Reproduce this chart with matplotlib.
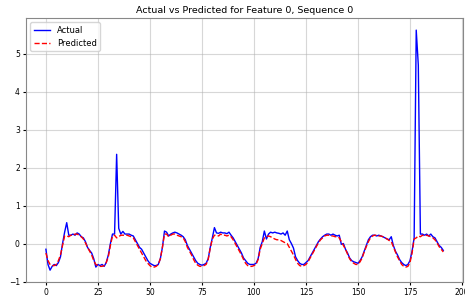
import numpy as np
import matplotlib
matplotlib.use('Agg')
import matplotlib.pyplot as plt

# values
actual = [
    -0.15, -0.55, -0.70, -0.60, -0.55, -0.58, -0.50, -0.35, 0.00, 0.30, 0.55, 0.22,
    0.22, 0.25, 0.22, 0.28, 0.25, 0.18, 0.15, 0.05, -0.10, -0.18, -0.25, -0.40,
    -0.62, -0.55, -0.58, -0.55, -0.60, -0.50, -0.30, 0.00, 0.25, 0.25, 2.35, 0.40,
    0.25, 0.32, 0.25, 0.25, 0.25, 0.22, 0.20, 0.10, 0.00, -0.10, -0.15, -0.25,
    -0.35, -0.45, -0.52, -0.55, -0.58, -0.58, -0.55, -0.40, -0.10, 0.33, 0.30, 0.20,
    0.25, 0.28, 0.30, 0.28, 0.25, 0.22, 0.18, 0.10, -0.05, -0.15, -0.25, -0.35,
    -0.45, -0.52, -0.55, -0.57, -0.55, -0.52, -0.40, -0.10, 0.15, 0.42, 0.28, 0.27,
    0.30, 0.28, 0.28, 0.26, 0.30, 0.22, 0.15, 0.05, -0.05, -0.15, -0.25, -0.38,
    -0.45, -0.52, -0.55, -0.55, -0.55, -0.52, -0.40, -0.10, 0.05, 0.33, 0.12, 0.25,
    0.30, 0.28, 0.30, 0.28, 0.27, 0.25, 0.28, 0.22, 0.33, 0.10, 0.00, -0.12,
    -0.35, -0.45, -0.52, -0.55, -0.55, -0.50, -0.45, -0.35, -0.25, -0.15, -0.05, 0.05,
    0.12, 0.18, 0.22, 0.25, 0.25, 0.22, 0.25, 0.22, 0.20, 0.22, -0.02, 0.00,
    -0.15, -0.25, -0.38, -0.45, -0.48, -0.50, -0.52, -0.45, -0.35, -0.20, -0.05, 0.10,
    0.18, 0.22, 0.22, 0.20, 0.22, 0.20, 0.18, 0.15, 0.12, 0.10, 0.18, -0.05,
    -0.20, -0.30, -0.42, -0.50, -0.55, -0.58, -0.55, -0.45, -0.20, 0.15, 5.62, 4.70,
    0.25, 0.25, 0.22, 0.25, 0.20, 0.25, 0.18, 0.15, 0.05, -0.05, -0.10, -0.18,
]

predicted = [
    -0.25, -0.45, -0.55, -0.58, -0.58, -0.55, -0.45, -0.30, -0.05, 0.20, 0.20, 0.18,
    0.22, 0.22, 0.25, 0.25, 0.22, 0.18, 0.12, 0.02, -0.10, -0.20, -0.30, -0.45,
    -0.55, -0.58, -0.60, -0.60, -0.58, -0.50, -0.35, -0.05, 0.20, 0.22, 0.15, 0.18,
    0.22, 0.22, 0.22, 0.22, 0.20, 0.18, 0.15, 0.05, -0.05, -0.15, -0.25, -0.35,
    -0.45, -0.52, -0.58, -0.62, -0.62, -0.60, -0.55, -0.40, -0.10, 0.25, 0.25, 0.18,
    0.22, 0.25, 0.25, 0.22, 0.20, 0.18, 0.15, 0.05, -0.10, -0.20, -0.30, -0.42,
    -0.52, -0.57, -0.60, -0.60, -0.58, -0.55, -0.42, -0.12, 0.12, 0.22, 0.22, 0.20,
    0.25, 0.22, 0.22, 0.20, 0.22, 0.18, 0.10, 0.00, -0.10, -0.20, -0.30, -0.42,
    -0.52, -0.58, -0.60, -0.60, -0.58, -0.55, -0.42, -0.15, 0.00, 0.15, 0.18, 0.20,
    0.18, 0.15, 0.12, 0.10, 0.10, 0.08, 0.05, 0.02, 0.00, -0.10, -0.20, -0.30,
    -0.42, -0.52, -0.58, -0.60, -0.58, -0.55, -0.48, -0.38, -0.28, -0.18, -0.08, 0.02,
    0.10, 0.15, 0.20, 0.22, 0.22, 0.20, 0.20, 0.18, 0.18, 0.15, 0.05, -0.05,
    -0.15, -0.28, -0.40, -0.48, -0.52, -0.55, -0.55, -0.48, -0.38, -0.22, -0.08, 0.05,
    0.15, 0.20, 0.22, 0.22, 0.20, 0.20, 0.18, 0.15, 0.12, 0.08, 0.05, -0.08,
    -0.22, -0.35, -0.45, -0.55, -0.60, -0.62, -0.60, -0.50, -0.25, 0.12, 0.15, 0.20,
    0.18, 0.22, 0.20, 0.22, 0.20, 0.18, 0.15, 0.10, 0.02, -0.08, -0.15, -0.22,
]

title = 'Actual vs Predicted for Feature 0, Sequence 0'

fig = plt.figure(figsize=(4.65, 2.97), dpi=100)
ax = fig.add_axes([0.056, 0.05, 0.94, 0.889])
ax.plot(actual, color='b', lw=1.0, label='Actual')
ax.plot(predicted, color='r', ls='--', lw=1.0, label='Predicted')
ax.set_title(title, fontsize=6.8, pad=4)
ax.legend(loc='upper left', fontsize=6)
ax.grid(True, alpha=0.5)
ax.set_xticks(np.arange(0, 201, 25))
ax.tick_params(labelsize=5.5, length=2.5, pad=2)
for s in ax.spines.values():
    s.set_color('#888888')
plt.savefig('out.png', dpi=100)
